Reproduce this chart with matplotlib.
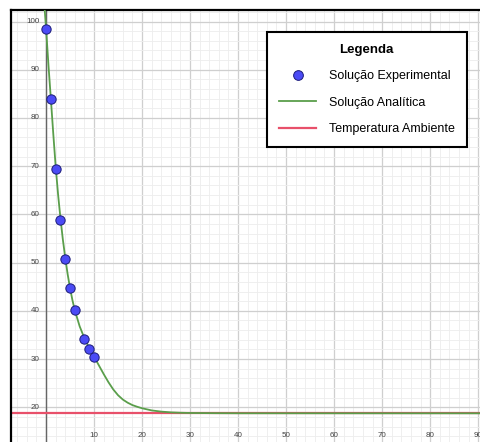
import matplotlib.pyplot as plt
from matplotlib.ticker import MultipleLocator
from matplotlib.lines import Line2D

plt.rcParams['font.family'] = ['Liberation Sans', 'DejaVu Sans']

# pontos experimentais (tempo, temperatura)
t_exp = [0, 1, 2, 3, 4, 5, 6, 8, 9, 10]
T_exp = [98.5, 83.9, 69.4, 58.8, 50.7, 44.7, 40.2, 34.2, 32.1, 30.4]

# curva analitica
t_ana = [-0.5, 0, 0.5, 1, 1.5, 2, 2.5, 3, 3.5, 4, 4.5, 5, 5.5, 6, 7, 8, 9, 10,
         11, 12, 13, 14, 15, 16, 17, 18, 19, 20, 22, 24, 26, 28, 30, 35, 40, 95]
T_ana = [105.5, 98.6, 91.0, 84.0, 76.8, 70.0, 64.2, 59.2, 54.8, 51.0, 47.6, 44.7, 42.2, 40.1,
         36.8, 34.3, 32.3, 30.5, 28.7, 26.9, 25.2, 23.7, 22.5, 21.6, 20.95, 20.45, 20.1, 19.8,
         19.35, 19.1, 18.95, 18.87, 18.82, 18.78, 18.76, 18.75]

T_amb = 18.75

x_ticks = [10, 20, 30, 40, 50, 60, 70, 80, 90]
y_ticks = [20, 30, 40, 50, 60, 70, 80, 90, 100]

fig = plt.figure(figsize=(4.81, 4.42), dpi=100)
ax = fig.add_axes([11 / 481, 0, 1 - 11 / 481, (442 - 9.5) / 442])
ax.set_xlim(-7.3, 90.6)
ax.set_ylim(12.8, 102.5)

# grade
ax.xaxis.set_major_locator(MultipleLocator(10))
ax.xaxis.set_minor_locator(MultipleLocator(2))
ax.yaxis.set_major_locator(MultipleLocator(10))
ax.yaxis.set_minor_locator(MultipleLocator(2))
ax.grid(which='major', color='#cfcfcf', lw=0.9)
ax.grid(which='minor', color='#ededed', lw=0.6)
ax.set_axisbelow(True)
ax.tick_params(which='both', length=0, labelbottom=False, labelleft=False)

for s in ['right', 'bottom']:
    ax.spines[s].set_visible(False)
for s in ['left', 'top']:
    ax.spines[s].set_color('black')
    ax.spines[s].set_linewidth(1.6)

ax.axvline(0, color='#666666', lw=1.0, zorder=1)

# rotulos dos eixos
for v in y_ticks:
    ax.text(-1.3, v, str(v), ha='right', va='center', fontsize=5.8, color='#444444')
for v in x_ticks:
    ax.text(v, 0.016, str(v), ha='center', va='center', fontsize=5.8, color='#444444',
            transform=ax.get_xaxis_transform())

ax.axhline(T_amb, color='#e8506a', lw=1.6, zorder=2)
ax.plot(t_ana, T_ana, color='#5a9e4b', lw=1.3, zorder=3)
ax.scatter(t_exp, T_exp, s=45, color='#4b4bf5', edgecolors='#1c1c7a', linewidths=0.7, zorder=4)

handles = [
    Line2D([], [], ls='none', marker='o', markersize=7, markerfacecolor='#4b4bf5',
           markeredgecolor='#1c1c7a', markeredgewidth=0.7),
    Line2D([], [], color='#5a9e4b', lw=1.3),
    Line2D([], [], color='#e8506a', lw=1.6),
]
labels = ['Solução Experimental', 'Solução Analítica', 'Temperatura Ambiente']
leg = ax.legend(handles, labels, title='Legenda', loc='upper left',
                bbox_to_anchor=(267 / 481, 1 - 32 / 442), bbox_transform=fig.transFigure,
                borderaxespad=0, fontsize=9, title_fontproperties={'weight': 'bold', 'size': 9.5},
                fancybox=False, framealpha=1, edgecolor='black', handlelength=3,
                handletextpad=1.0, labelspacing=1.15, borderpad=0.95)
leg.get_frame().set_linewidth(1.5)
leg.set_zorder(10)

fig.savefig('out.png', dpi=100)
